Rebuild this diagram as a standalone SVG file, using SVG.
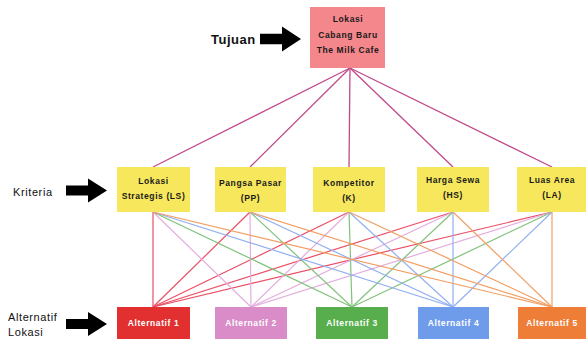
<svg xmlns="http://www.w3.org/2000/svg" width="586" height="345" viewBox="0 0 586 345">
<style>
.bt{font-family:"Liberation Sans",Arial,sans-serif;font-weight:bold;font-size:8.5px;letter-spacing:0.6px;text-anchor:middle;fill:#1a1a1a}
.at{font-family:"Liberation Sans",Arial,sans-serif;font-weight:bold;font-size:8.5px;letter-spacing:0.6px;text-anchor:middle;fill:#ffffff}
.lbl{font-family:"Liberation Sans",Arial,sans-serif;font-size:11px;letter-spacing:0.6px;fill:#111}
.crit{fill:#f6e75c}
.c line{stroke-width:1.2;fill:none}
.top line{stroke:#c04a8a;stroke-width:1.3}
.r{stroke:#e8304a}.p{stroke:#dfa0d8}.g{stroke:#6cb865}.b{stroke:#7fa2ee}.o{stroke:#f08e48}
</style>
<defs>
<path id="arr" d="M0,-5 L22,-5 L22,-12 L41,0 L22,12 L22,5 L0,5 Z" fill="#000"/>
</defs>
<g id="connectors" class="c">
<g class="top">
<line x1="350" y1="68" x2="153" y2="167"/>
<line x1="350" y1="68" x2="250" y2="167"/>
<line x1="350" y1="68" x2="349" y2="167"/>
<line x1="350" y1="68" x2="453" y2="167"/>
<line x1="350" y1="68" x2="552" y2="167"/>
</g>
<g opacity="0.85">
<line class="r" x1="153" y1="212" x2="153" y2="307"/>
<line class="r" x1="250" y1="212" x2="153" y2="307"/>
<line class="r" x1="349" y1="212" x2="153" y2="307"/>
<line class="r" x1="453" y1="212" x2="153" y2="307"/>
<line class="r" x1="552" y1="212" x2="153" y2="307"/>
<line class="p" x1="153" y1="212" x2="251" y2="307"/>
<line class="p" x1="250" y1="212" x2="251" y2="307"/>
<line class="p" x1="349" y1="212" x2="251" y2="307"/>
<line class="p" x1="453" y1="212" x2="251" y2="307"/>
<line class="p" x1="552" y1="212" x2="251" y2="307"/>
<line class="g" x1="153" y1="212" x2="352" y2="307"/>
<line class="g" x1="250" y1="212" x2="352" y2="307"/>
<line class="g" x1="349" y1="212" x2="352" y2="307"/>
<line class="g" x1="453" y1="212" x2="352" y2="307"/>
<line class="g" x1="552" y1="212" x2="352" y2="307"/>
<line class="b" x1="153" y1="212" x2="453" y2="307"/>
<line class="b" x1="250" y1="212" x2="453" y2="307"/>
<line class="b" x1="349" y1="212" x2="453" y2="307"/>
<line class="b" x1="453" y1="212" x2="453" y2="307"/>
<line class="b" x1="552" y1="212" x2="453" y2="307"/>
<line class="o" x1="153" y1="212" x2="552" y2="307"/>
<line class="o" x1="250" y1="212" x2="552" y2="307"/>
<line class="o" x1="349" y1="212" x2="552" y2="307"/>
<line class="o" x1="453" y1="212" x2="552" y2="307"/>
<line class="o" x1="552" y1="212" x2="552" y2="307"/>
</g>
</g>
<g id="goal">
<rect x="310" y="7" width="75" height="61" fill="#f4878c"/>
<text class="bt" x="348" y="22">Lokasi</text>
<text class="bt" x="348" y="38">Cabang Baru</text>
<text class="bt" x="348" y="53">The Milk Cafe</text>
</g>
<g id="label-tujuan">
<text x="211" y="44" font-family="Liberation Sans, Arial, sans-serif" font-weight="bold" font-size="13" letter-spacing="0.5" fill="#111">Tujuan</text>
<use href="#arr" transform="translate(260,39) scale(1,1.05)"/>
</g>
<g id="label-kriteria">
<text class="lbl" x="13" y="196">Kriteria</text>
<use href="#arr" x="66" y="190.5"/>
</g>
<g id="label-alternatif">
<text class="lbl" x="8" y="321">Alternatif</text>
<text class="lbl" x="8" y="336">Lokasi</text>
<use href="#arr" x="66" y="324"/>
</g>
<g id="crit-ls">
<rect class="crit" x="117" y="167" width="73" height="45"/>
<text class="bt" x="153.5" y="184">Lokasi</text>
<text class="bt" x="153.5" y="199">Strategis (LS)</text>
</g>
<g id="crit-pp">
<rect class="crit" x="215" y="167" width="71" height="45"/>
<text class="bt" x="250.5" y="186">Pangsa Pasar</text>
<text class="bt" x="250.5" y="201">(PP)</text>
</g>
<g id="crit-k">
<rect class="crit" x="313" y="167" width="72" height="45"/>
<text class="bt" x="349" y="186">Kompetitor</text>
<text class="bt" x="349" y="201">(K)</text>
</g>
<g id="crit-hs">
<rect class="crit" x="417" y="167" width="72" height="45"/>
<text class="bt" x="453" y="183">Harga Sewa</text>
<text class="bt" x="453" y="198">(HS)</text>
</g>
<g id="crit-la">
<rect class="crit" x="517" y="167" width="71" height="45"/>
<text class="bt" x="552" y="183">Luas Area</text>
<text class="bt" x="552" y="198">(LA)</text>
</g>
<g id="alt-1">
<rect x="117" y="307" width="73" height="32" fill="#e1302f"/>
<text class="at" x="153.5" y="326">Alternatif 1</text>
</g>
<g id="alt-2">
<rect x="215" y="307" width="72" height="32" fill="#d98cc8"/>
<text class="at" x="251" y="326">Alternatif 2</text>
</g>
<g id="alt-3">
<rect x="316" y="307" width="72" height="32" fill="#58ae4c"/>
<text class="at" x="352" y="326">Alternatif 3</text>
</g>
<g id="alt-4">
<rect x="418" y="307" width="71" height="32" fill="#6e9bea"/>
<text class="at" x="453.5" y="326">Alternatif 4</text>
</g>
<g id="alt-5">
<rect x="518" y="307" width="70" height="32" fill="#ee7d38"/>
<text class="at" x="552" y="326">Alternatif 5</text>
</g>
</svg>
